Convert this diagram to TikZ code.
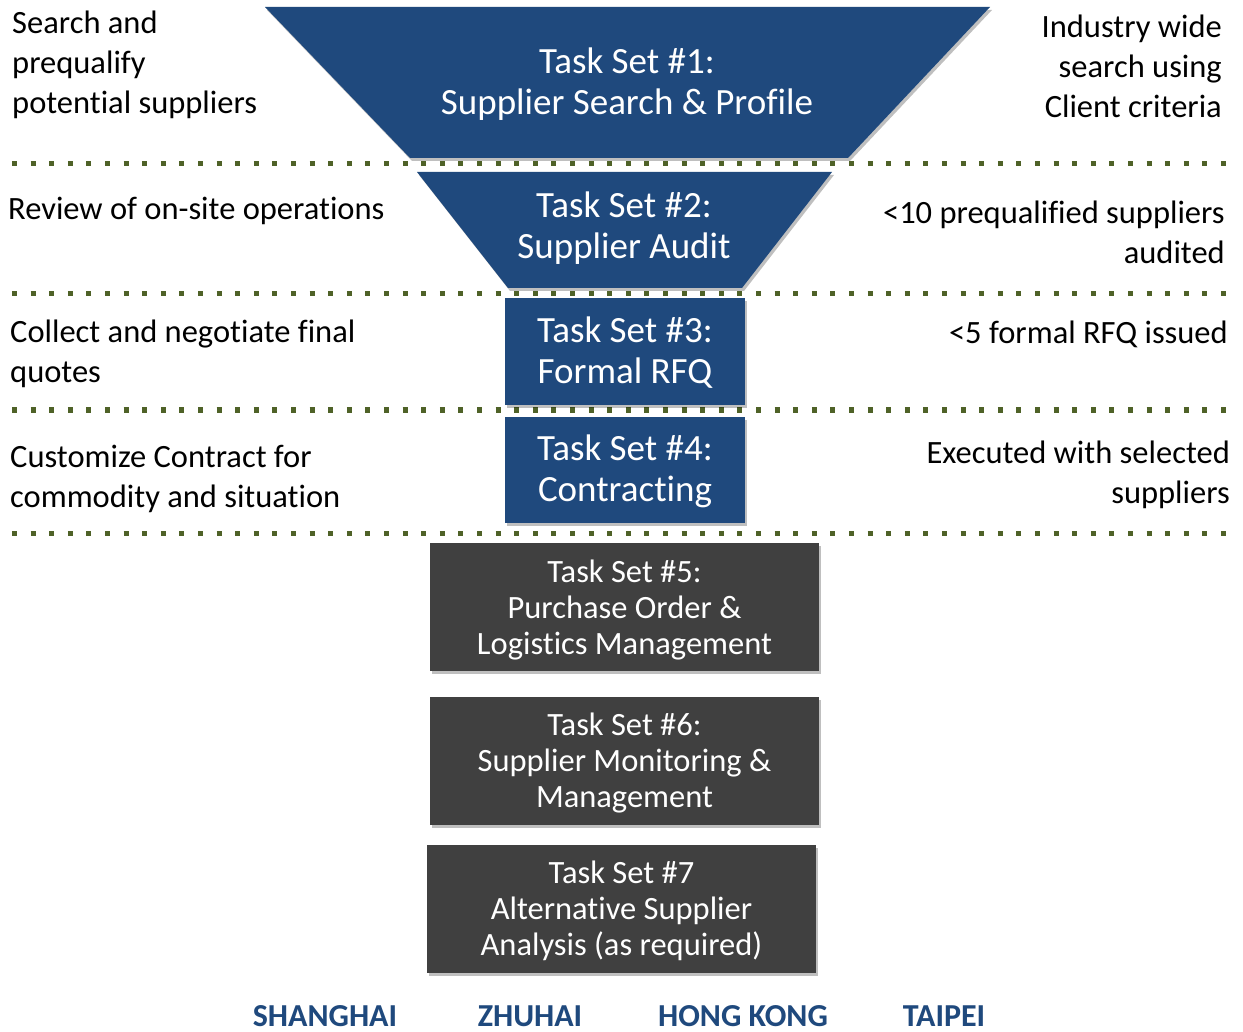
\documentclass[tikz,border=0pt]{standalone}
\usepackage{fontspec}
\setmainfont{Carlito}[Ligatures={NoCommon}]
\usetikzlibrary{shadows}
\definecolor{tblue}{HTML}{1F497D}
\definecolor{tgrey}{HTML}{404040}
\definecolor{dotgreen}{HTML}{4F6228}
\begin{document}
\begin{tikzpicture}[x=1pt,y=-1pt,
  shade/.style={drop shadow={shadow xshift=2pt,shadow yshift=-3pt,opacity=0.25,fill=black}},
  bluebox/.style={fill=tblue,draw=none,shade},
  greybox/.style={fill=tgrey,draw=none,shade},
  bluetxt/.style={text=white,align=center,font=\fontsize{37}{41}\selectfont},
  greytxt/.style={text=white,align=center,font=\fontsize{32.5}{36}\selectfont},
  sidel/.style={anchor=west,align=left,font=\fontsize{32.5}{40}\selectfont,inner sep=0pt},
  sider/.style={anchor=east,align=right,font=\fontsize{32.5}{40}\selectfont,inner sep=0pt},
  city/.style={text=tblue,anchor=base,font=\bfseries\fontsize{32}{34}\selectfont,inner sep=0pt},
  dotline/.style={draw=dotgreen,line width=5pt,dash pattern=on 5pt off 13.6pt}
]
\useasboundingbox (0,0) rectangle (1243,1032);
\fill[white] (0,0) rectangle (1243,1032);

% dotted separators
\coordinate (d1a) at (12,164); \coordinate (d1b) at (1232,164);
\coordinate (d2a) at (12,294); \coordinate (d2b) at (1232,294);
\coordinate (d3a) at (12,410); \coordinate (d3b) at (1232,410);
\coordinate (d4a) at (12,533); \coordinate (d4b) at (1232,533);
\draw[dotline] (d1a) -- (d1b);
\draw[dotline] (d2a) -- (d2b);
\draw[dotline] (d3a) -- (d3b);
\draw[dotline] (d4a) -- (d4b);

% funnel shapes
\path[bluebox] (265,7) -- (990,7) -- (848,158) -- (410,158) -- cycle;
\path[bluebox] (417,172) -- (832,172) -- (742,288) -- (508,288) -- cycle;
\node[bluebox,minimum width=240pt,minimum height=107pt,inner sep=0pt] (b3) at (625,351.5) {};
\node[bluebox,minimum width=240pt,minimum height=106pt,inner sep=0pt] (b4) at (625,470) {};
\node[greybox,minimum width=389pt,minimum height=128pt,inner sep=0pt] (b5) at (624.5,607) {};
\node[greybox,minimum width=389pt,minimum height=128pt,inner sep=0pt] (b6) at (624.5,761) {};
\node[greybox,minimum width=389pt,minimum height=128pt,inner sep=0pt] (b7) at (621.5,909) {};

% box texts
\node[bluetxt] (t1) at (627,84) {Task Set \#1:\\Supplier Search \& Profile};
\node[bluetxt] (t2) at (624,228) {Task Set \#2:\\Supplier Audit};
\node[bluetxt] at (625,353) (t3) {Task Set \#3:\\Formal RFQ};
\node[bluetxt] at (625,471) (t4) {Task Set \#4:\\Contracting};
\node[greytxt] at (624.5,610) (t5) {Task Set \#5:\\Purchase Order \&\\Logistics Management};
\node[greytxt] at (624.5,763) (t6) {Task Set \#6:\\Supplier Monitoring \&\\Management};
\node[greytxt] at (621.5,911) (t7) {Task Set \#7\\Alternative Supplier\\Analysis (as required)};

% left side texts
\node[sidel] (l1) at (12,65) {Search and\\prequalify\\potential suppliers};
\node[sidel] (l2) at (8,211) {Review of on-site operations};
\node[sidel] (l3) at (10,354) {Collect and negotiate final\\quotes};
\node[sidel] (l4) at (10,479) {Customize Contract for\\commodity and situation};

% right side texts
\node[sider] (r1) at (1222,66) {Industry wide\\search using\\Client criteria};
\node[sider] (r2) at (1225,232) {<10 prequalified suppliers\\audited};
\node[sider] (r3) at (1228,334) {<5 formal RFQ issued};
\node[sider] (r4) at (1230,475) {Executed with selected\\suppliers};

% cities
\node[city] (c1) at (325,1026) {SHANGHAI};
\node[city] (c2) at (530,1026) {ZHUHAI};
\node[city] (c3) at (743,1026) {HONG KONG};
\node[city] (c4) at (944,1026) {TAIPEI};
\end{tikzpicture}
\end{document}
